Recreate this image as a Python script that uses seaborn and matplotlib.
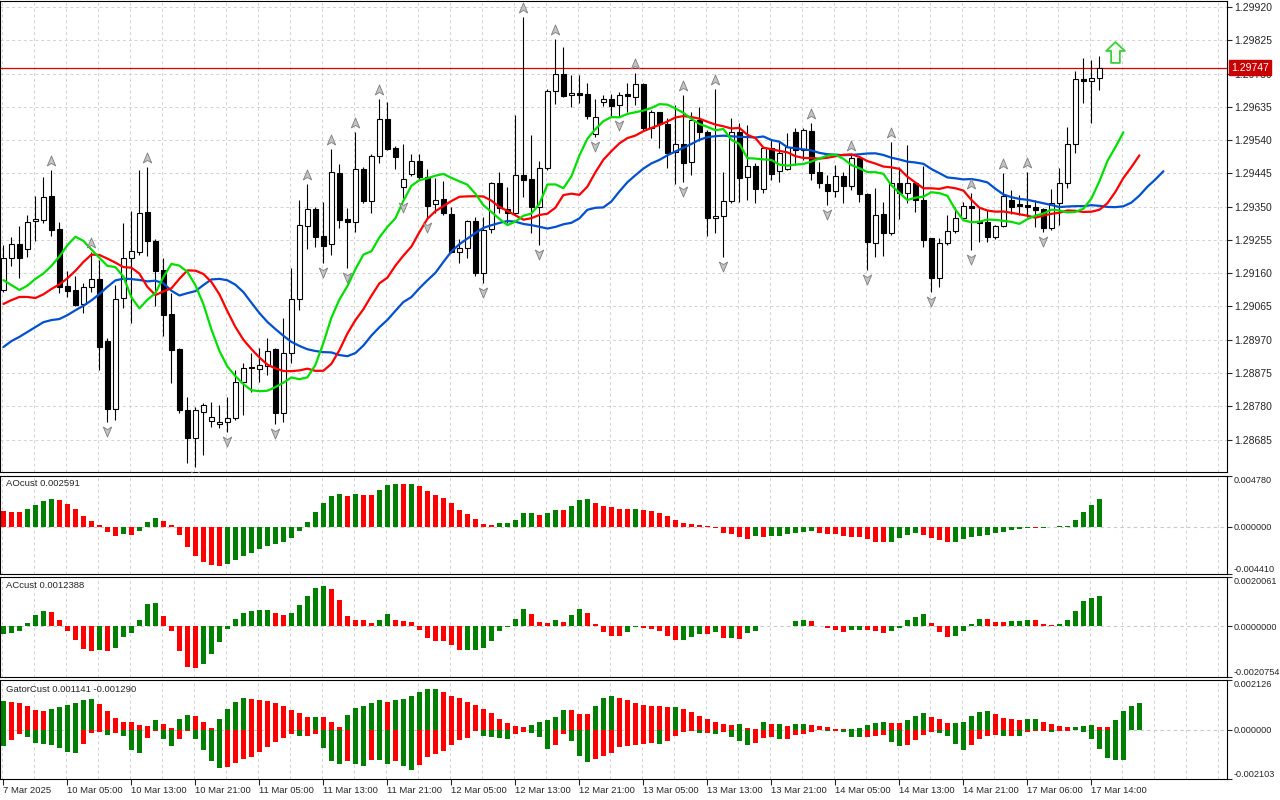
import numpy as np
import matplotlib
matplotlib.use("Agg")
import matplotlib.pyplot as plt
from matplotlib.path import Path
from matplotlib.transforms import offset_copy
import seaborn as sns

# -----------------------------
# Data (H1 bars, 7 Mar 21:00 -> 17 Mar 15:00)
# -----------------------------
open_ = [1.29112, 1.29203, 1.29243, 1.29229, 1.29309, 1.29312, 1.29380, 1.29286, 1.29123, 1.29112,
         1.29072, 1.29120, 1.29143, 1.28966, 1.28772, 1.29089, 1.29203, 1.29220, 1.29335, 1.29252,
         1.29169, 1.29043, 1.28943, 1.28769, 1.28689, 1.28764, 1.28738, 1.28729, 1.28735, 1.28746,
         1.28849, 1.28892, 1.28886, 1.28895, 1.28943, 1.28761, 1.28932, 1.29086, 1.29295, 1.29343,
         1.29266, 1.29243, 1.29446, 1.29315, 1.29306, 1.29457, 1.29366, 1.29495, 1.29600, 1.29517,
         1.29406, 1.29443, 1.29480, 1.29435, 1.29358, 1.29372, 1.29329, 1.29220, 1.29232, 1.29309,
         1.29160, 1.29286, 1.29417, 1.29343, 1.29332, 1.29440, 1.29429, 1.29349, 1.29460, 1.29680,
         1.29729, 1.29669, 1.29674, 1.29672, 1.29557, 1.29649, 1.29657, 1.29640, 1.29672, 1.29663,
         1.29700, 1.29575, 1.29620, 1.29586, 1.29506, 1.29529, 1.29477, 1.29597, 1.29563, 1.29318,
         1.29323, 1.29366, 1.29563, 1.29435, 1.29466, 1.29400, 1.29517, 1.29452, 1.29457, 1.29563,
         1.29512, 1.29566, 1.29449, 1.29415, 1.29395, 1.29437, 1.29409, 1.29489, 1.29386, 1.29246,
         1.29329, 1.29275, 1.29417, 1.29389, 1.29417, 1.29369, 1.29260, 1.29146, 1.29246, 1.29280,
         1.29318, 1.29352, 1.29309, 1.29306, 1.29263, 1.29295, 1.29369, 1.29358, 1.29355, 1.29349,
         1.29343, 1.29289, 1.29360, 1.29417, 1.29529, 1.29714, 1.29709, 1.29717]
high = [1.29240, 1.29263, 1.29295, 1.29326, 1.29380, 1.29435, 1.29455, 1.29306, 1.29166, 1.29152,
        1.29132, 1.29220, 1.29198, 1.28975, 1.29126, 1.29303, 1.29338, 1.29455, 1.29463, 1.29258,
        1.29203, 1.29103, 1.28946, 1.28806, 1.28778, 1.28789, 1.28792, 1.28784, 1.28806, 1.28884,
        1.28903, 1.28932, 1.28946, 1.28975, 1.28946, 1.29032, 1.29175, 1.29369, 1.29415, 1.29349,
        1.29363, 1.29515, 1.29472, 1.29346, 1.29563, 1.29463, 1.29500, 1.29657, 1.29649, 1.29523,
        1.29529, 1.29500, 1.29500, 1.29457, 1.29432, 1.29423, 1.29349, 1.29258, 1.29312, 1.29320,
        1.29320, 1.29420, 1.29449, 1.29406, 1.29612, 1.29891, 1.29555, 1.29480, 1.29686, 1.29829,
        1.29806, 1.29726, 1.29726, 1.29703, 1.29657, 1.29669, 1.29672, 1.29677, 1.29703, 1.29732,
        1.29703, 1.29626, 1.29620, 1.29603, 1.29640, 1.29669, 1.29620, 1.29634, 1.29569, 1.29686,
        1.29449, 1.29603, 1.29589, 1.29583, 1.29475, 1.29520, 1.29540, 1.29535, 1.29560, 1.29575,
        1.29575, 1.29589, 1.29477, 1.29440, 1.29469, 1.29449, 1.29497, 1.29489, 1.29389, 1.29403,
        1.29363, 1.29535, 1.29463, 1.29526, 1.29420, 1.29466, 1.29260, 1.29260, 1.29326, 1.29349,
        1.29363, 1.29389, 1.29349, 1.29340, 1.29298, 1.29446, 1.29397, 1.29383, 1.29449, 1.29369,
        1.29346, 1.29400, 1.29460, 1.29577, 1.29737, 1.29774, 1.29769, 1.29780]
low = [1.29106, 1.29180, 1.29146, 1.29206, 1.29252, 1.29303, 1.29266, 1.29103, 1.29092, 1.29066,
       1.29046, 1.29106, 1.28884, 1.28735, 1.28741, 1.29061, 1.29018, 1.29212, 1.29209, 1.29066,
       1.28981, 1.28846, 1.28761, 1.28618, 1.28607, 1.28641, 1.28721, 1.28718, 1.28706, 1.28741,
       1.28755, 1.28821, 1.28849, 1.28869, 1.28729, 1.28735, 1.28903, 1.29055, 1.29229, 1.29235,
       1.29189, 1.29212, 1.29289, 1.29175, 1.29278, 1.29360, 1.29332, 1.29475, 1.29512, 1.29457,
       1.29375, 1.29437, 1.29426, 1.29318, 1.29332, 1.29326, 1.29218, 1.29189, 1.29203, 1.29152,
       1.29132, 1.29275, 1.29332, 1.29303, 1.29326, 1.29377, 1.29275, 1.29240, 1.29455, 1.29643,
       1.29663, 1.29634, 1.29646, 1.29600, 1.29549, 1.29637, 1.29606, 1.29609, 1.29620, 1.29640,
       1.29569, 1.29546, 1.29517, 1.29460, 1.29415, 1.29420, 1.29440, 1.29537, 1.29266, 1.29275,
       1.29206, 1.29360, 1.29363, 1.29369, 1.29360, 1.29389, 1.29426, 1.29420, 1.29455, 1.29469,
       1.29483, 1.29426, 1.29403, 1.29355, 1.29377, 1.29360, 1.29397, 1.29363, 1.29169, 1.29206,
       1.29209, 1.29269, 1.29315, 1.29360, 1.29335, 1.29235, 1.29106, 1.29120, 1.29240, 1.29275,
       1.29315, 1.29226, 1.29249, 1.29249, 1.29258, 1.29292, 1.29329, 1.29326, 1.29320, 1.29292,
       1.29277, 1.29283, 1.29298, 1.29403, 1.29503, 1.29646, 1.29589, 1.29683]
close = [1.29203, 1.29243, 1.29203, 1.29306, 1.29315, 1.29377, 1.29283, 1.29120, 1.29109, 1.29069,
         1.29120, 1.29143, 1.28949, 1.28772, 1.29086, 1.29203, 1.29223, 1.29332, 1.29252, 1.29166,
         1.29040, 1.28941, 1.28769, 1.28689, 1.28769, 1.28784, 1.28749, 1.28735, 1.28746, 1.28849,
         1.28889, 1.28889, 1.28898, 1.28938, 1.28761, 1.28932, 1.29086, 1.29298, 1.29343, 1.29263,
         1.29238, 1.29449, 1.29312, 1.29306, 1.29457, 1.29366, 1.29495, 1.29600, 1.29515, 1.29492,
         1.29429, 1.29480, 1.29435, 1.29352, 1.29369, 1.29332, 1.29220, 1.29232, 1.29309, 1.29160,
         1.29283, 1.29417, 1.29346, 1.29332, 1.29440, 1.29426, 1.29349, 1.29460, 1.29680, 1.29729,
         1.29666, 1.29674, 1.29669, 1.29609, 1.29606, 1.29657, 1.29637, 1.29669, 1.29666, 1.29700,
         1.29575, 1.29620, 1.29586, 1.29503, 1.29529, 1.29475, 1.29597, 1.29563, 1.29318, 1.29323,
         1.29366, 1.29563, 1.29432, 1.29466, 1.29400, 1.29517, 1.29443, 1.29503, 1.29520, 1.29512,
         1.29569, 1.29446, 1.29417, 1.29395, 1.29437, 1.29409, 1.29489, 1.29386, 1.29249, 1.29326,
         1.29275, 1.29417, 1.29389, 1.29417, 1.29369, 1.29255, 1.29146, 1.29246, 1.29280, 1.29318,
         1.29352, 1.29346, 1.29303, 1.29263, 1.29295, 1.29380, 1.29349, 1.29352, 1.29349, 1.29340,
         1.29289, 1.29360, 1.29417, 1.29529, 1.29714, 1.29709, 1.29717, 1.29747]

# Alligator lines: values already on screen before the first bar's SMMA lands
jaw_seed = [1.28949, 1.28966, 1.28978, 1.28992, 1.29006, 1.29020, 1.29026, 1.29029]
teeth_seed = [1.29072, 1.29083, 1.29092, 1.29092, 1.29089]
lips_seed = [1.29140, 1.29126, 1.29112]

# fractal bars
frac_up = [6, 11, 18, 38, 41, 44, 47, 65, 69, 79, 85, 89, 101, 106, 111, 121, 125, 128]
frac_dn = [13, 24, 28, 34, 40, 43, 50, 53, 60, 67, 74, 77, 85, 90, 103, 108, 116, 121, 130]
signal_bar, signal_price = 139, 1.29792

# AO / AC histograms (units of 1e-6)
ao = [1476, 1444, 1413, 1696, 2072, 2418, 2606, 2512, 2135, 1696,
      1005, 534, 157, -440, -848, -691, -754, -377, 440, 816,
      534, 157, -754, -1884, -2732, -3297, -3580, -3674, -3485, -3140,
      -2732, -2449, -2072, -1821, -1633, -1413, -1068, -377, 440, 1413,
      2229, 2920, 3077, 2920, 3077, 3014, 2983, 3485, 3925, 4019,
      3988, 4035, 3799, 3360, 2983, 2763, 2229, 1601, 1193, 754,
      251, 188, 345, 361, 628, 1287, 1319, 1130, 1287, 1601,
      1570, 1947, 2543, 2606, 2229, 1978, 1884, 1727, 1664, 1727,
      1601, 1507, 1287, 1005, 659, 408, 251, 157, 63, -63,
      -565, -691, -942, -1099, -879, -942, -879, -848, -628, -565,
      -471, -377, -565, -628, -691, -879, -942, -973, -1162, -1413,
      -1422, -1382, -1068, -754, -565, -754, -1005, -1225, -1413, -1382,
      -1162, -942, -879, -785, -565, -471, -283, -157, -126, -141,
      -63, 31, 63, 94, 659, 1382, 2041, 2591]
ac = [-330, -261, -192, 124, 453, 618, 577, 247, -192, -563,
      -920, -1016, -975, -1016, -906, -439, -275, 261, 906, 947,
      412, -192, -1016, -1661, -1703, -1538, -1126, -632, -96, 288,
      535, 632, 659, 673, 535, 453, 535, 865, 1222, 1551,
      1634, 1524, 1071, 412, 247, 240, 124, 247, 494, 261,
      220, 165, -151, -481, -604, -611, -769, -975, -968, -961,
      -892, -604, -192, -27, 275, 700, 494, 165, 137, 247,
      165, 453, 700, 535, 82, -247, -412, -419, -247, -41,
      -69, -96, -206, -412, -577, -563, -453, -316, -323, -247,
      -481, -474, -508, -275, -206, 14, 21, 14, 21, 206,
      233, 206, -14, -69, -137, -233, -165, -137, -144, -206,
      -288, -206, -69, 247, 384, 481, 110, -233, -453, -412,
      -206, 69, 302, 295, 165, 158, 206, 213, 261, 247,
      69, 27, 69, 247, 618, 1016, 1167, 1238.8]
gator_last = (0.001141, -0.001290)

price_ticks = [1.29920, 1.29825, 1.29730, 1.29635, 1.29540, 1.29445, 1.29350,
               1.29255, 1.29160, 1.29065, 1.28970, 1.28875, 1.28780, 1.28685]
time_labels = ["7 Mar 2025", "10 Mar 05:00", "10 Mar 13:00", "10 Mar 21:00", "11 Mar 05:00",
               "11 Mar 13:00", "11 Mar 21:00", "12 Mar 05:00", "12 Mar 13:00", "12 Mar 21:00",
               "13 Mar 05:00", "13 Mar 13:00", "13 Mar 21:00", "14 Mar 05:00", "14 Mar 13:00",
               "14 Mar 21:00", "17 Mar 06:00", "17 Mar 14:00"]
ao_ticks = [-0.004410, 0.0, 0.004780]
ac_ticks = [-0.0020754, 0.0, 0.0020061]
gator_ticks = [-0.002103, 0.0, 0.002126]

GREEN, RED = "#008000", "#ff0000"

# -----------------------------
# Indicators derived from the bars
# -----------------------------
o, h, l, c = map(np.array, (open_, high, low, close))
median = (h + l) / 2
n = len(c)
x = np.arange(n)


def smma(values, period, start):
    out, prev = [], start
    for v in values:
        prev = (prev * (period - 1) + v) / period
        out.append(prev)
    return out


jaw = np.array(jaw_seed + smma(median, 13, jaw_seed[-1]))
teeth = np.array(teeth_seed + smma(median, 8, teeth_seed[-1]))
lips = np.array(lips_seed + smma(median, 5, lips_seed[-1]))

gator_up = np.abs(jaw[:len(teeth)] - teeth)
gator_dn = np.abs(teeth[:len(lips)] - lips)

ao_v = np.array(ao) * 1e-6
ac_v = np.array(ac) * 1e-6


def trend_colors(v, first_up):
    rising = np.r_[first_up, v[1:] > v[:-1]]
    return np.where(rising, GREEN, RED)


# -----------------------------
# Figure layout (MetaTrader style)
# -----------------------------
sns.set_style("white")
plt.rcParams["font.family"] = ["Liberation Sans", "DejaVu Sans"]

W, H = 1280, 800
fig = plt.figure(figsize=(12.8, 8), dpi=100)
fig.patch.set_facecolor("white")


def panel(top, bottom, labelsize=7.5):
    ax = fig.add_axes([0, 1 - bottom / H, 1227 / W, (bottom - top) / H])
    ax.set_xlim(-0.425, 152.95)
    ax.set_facecolor("white")
    for s in ax.spines.values():
        s.set_color("black")
        s.set_linewidth(0.8)
    for gx in range(0, 153, 4):
        ax.axvline(gx - 0.125, color="#d2d2d2", lw=0.7, ls=(0, (3, 3)), zorder=0)
    ax.tick_params(axis="y", left=False, right=True, labelleft=False, labelright=True,
                   direction="out", length=3.5, width=0.8, labelsize=labelsize, pad=1.5)
    ax.tick_params(axis="x", bottom=False, labelbottom=False)
    return ax


ax_main = panel(1, 472)
ax_ao = panel(476, 574, 6.6)
ax_ac = panel(577, 677, 6.6)
ax_gt = panel(680, 779, 6.6)

# main chart
ax = ax_main
ax.set_ylim(1.285922, 1.299371)
ax.set_yticks(price_ticks)
ax.set_yticklabels([f"{p:.5f}" for p in price_ticks])
for p in price_ticks:
    ax.axhline(p, color="#d2d2d2", lw=0.7, ls=(0, (3, 3)), zorder=0)
ax.axhline(c[-1], color="#e00000", lw=0.9, zorder=1)

ax.vlines(x, l, h, color="black", lw=0.8, zorder=2)
ax.bar(x, np.abs(c - o), bottom=np.minimum(o, c), width=0.62,
       color=np.where(c >= o, "white", "black"), edgecolor="black", linewidth=0.8, zorder=3)

sns.lineplot(x=np.arange(len(jaw)), y=jaw, ax=ax, color="#0050d0", linewidth=1.6,
             estimator=None, zorder=4)
sns.lineplot(x=np.arange(len(teeth)), y=teeth, ax=ax, color="#ff0000", linewidth=1.6,
             estimator=None, zorder=4)
sns.lineplot(x=np.arange(len(lips)), y=lips, ax=ax, color="#00e000", linewidth=1.6,
             estimator=None, zorder=4)
ax.set_xlabel("")
ax.set_ylabel("")

up_path = Path([(0, 1), (0.75, -0.8), (0, -0.35), (-0.75, -0.8), (0, 1)],
               [Path.MOVETO, Path.LINETO, Path.LINETO, Path.LINETO, Path.CLOSEPOLY])
dn_path = Path([(0, -1), (0.75, 0.8), (0, 0.35), (-0.75, 0.8), (0, -1)],
               [Path.MOVETO, Path.LINETO, Path.LINETO, Path.LINETO, Path.CLOSEPOLY])
ax.plot(frac_up, h[frac_up], ls="none", marker=up_path, ms=8, mfc="#c4c4c4", mec="#7c7c7c",
        mew=0.6, zorder=5, transform=offset_copy(ax.transData, fig=fig, y=9, units="dots"))
ax.plot(frac_dn, l[frac_dn], ls="none", marker=dn_path, ms=8, mfc="#c4c4c4", mec="#7c7c7c",
        mew=0.6, zorder=5, transform=offset_copy(ax.transData, fig=fig, y=-9, units="dots"))

sig_path = Path([(0, 1), (0.9, 0.15), (0.42, 0.15), (0.42, -1), (-0.42, -1), (-0.42, 0.15),
                 (-0.9, 0.15), (0, 1)],
                [Path.MOVETO] + [Path.LINETO] * 6 + [Path.CLOSEPOLY])
ax.plot([signal_bar], [signal_price], ls="none", marker=sig_path, ms=15, mfc="#f4fff4",
        mec="#3ccf3c", mew=1.3, zorder=5)

ax.annotate(f"{c[-1]:.5f}", xy=(1, c[-1]), xycoords=("axes fraction", "data"),
            xytext=(3, 0), textcoords="offset points", ha="left", va="center",
            fontsize=7.5, color="white", zorder=10, annotation_clip=False,
            bbox=dict(boxstyle="square,pad=0.22", fc="#c80000", ec="#c80000"))


def sub_axis(ax, ticks, fmt):
    ax.set_ylim(ticks[0], ticks[-1])
    ax.set_yticks(ticks)
    ax.set_yticklabels([fmt.format(t) for t in ticks])
    labs = ax.get_yticklabels()
    labs[0].set_va("bottom")
    labs[-1].set_va("top")
    ax.axhline(0, color="#c8c8c8", lw=0.8, ls=(0, (3, 3)), zorder=0)


# AO
sub_axis(ax_ao, ao_ticks, "{:.6f}")
ax_ao.bar(x, ao_v, width=0.62, color=trend_colors(ao_v, False), linewidth=0, zorder=2)

# AC
sub_axis(ax_ac, ac_ticks, "{:.7f}")
ax_ac.bar(x, ac_v, width=0.62, color=trend_colors(ac_v, True), linewidth=0, zorder=2)

# Gator
sub_axis(ax_gt, gator_ticks, "{:.6f}")
ax_gt.bar(np.arange(len(gator_up)), gator_up, width=0.62,
          color=trend_colors(gator_up, True), linewidth=0, zorder=2)
ax_gt.bar(np.arange(len(gator_dn)), -gator_dn, width=0.62,
          color=trend_colors(gator_dn, True), linewidth=0, zorder=2)

ax_gt.set_xticks(np.arange(len(time_labels)) * 8 - 0.1)
ax_gt.set_xticklabels(time_labels)
ax_gt.tick_params(axis="x", bottom=True, labelbottom=True, direction="out",
                  length=4, width=0.8, labelsize=6.8, pad=1)
for lab in ax_gt.get_xticklabels():
    lab.set_ha("left")

# panel captions
fig.text(6 / W, 1 - 484 / H, f"AOcust {ao_v[-1]:.6f}", fontsize=6.8, va="center")
fig.text(6 / W, 1 - 586 / H, f"ACcust {ac_v[-1]:.7f}", fontsize=6.8, va="center")
fig.text(6 / W, 1 - 689 / H, f"GatorCust {gator_last[0]:.6f} {gator_last[1]:.6f}",
         fontsize=6.8, va="center")

plt.savefig("out.png", dpi=100, facecolor="white")
